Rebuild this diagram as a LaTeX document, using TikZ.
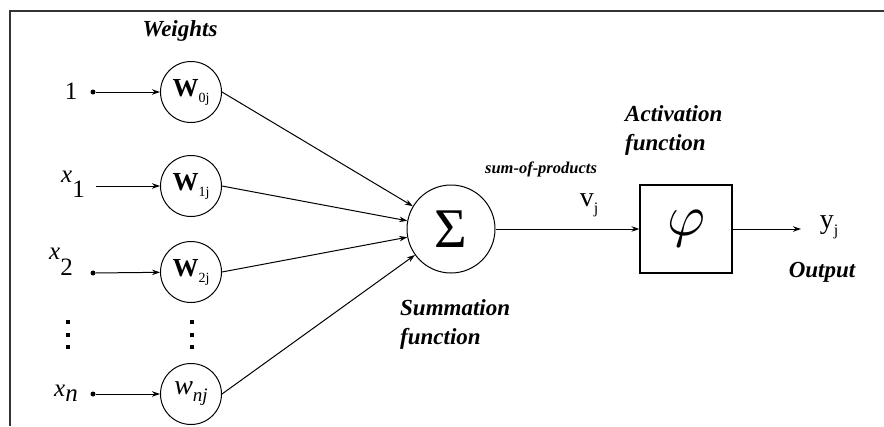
\documentclass[tikz,border=0pt]{standalone}
\usepackage{fontspec}
\setmainfont{Liberation Serif}
\usetikzlibrary{arrows.meta}
\begin{document}
\begin{tikzpicture}[x=1pt,y=-1pt,
  wnode/.style={draw, circle, minimum size=61pt, inner sep=0pt, line width=1pt},
  conn/.style={line width=1pt, -{Stealth[length=8pt,width=5.5pt]}},
  lbl/.style={font=\fontsize{23}{29}\selectfont\bfseries\itshape, align=left, inner sep=0pt},
  small/.style={font=\fontsize{16.5}{18}\selectfont\bfseries\itshape, inner sep=0pt},
  inlbl/.style={font=\fontsize{25}{27}\selectfont, inner sep=0pt},
  outlbl/.style={font=\fontsize{28}{30}\selectfont, inner sep=0pt},
  dotc/.style={circle, fill, inner sep=0pt, minimum size=5pt},
  vdot/.style={rectangle, fill, inner sep=0pt, minimum size=4pt}]
\useasboundingbox (0,0) rectangle (884,426);
\draw[line width=2pt, black!80] (10,426) -- (10,11) -- (884,11);

% labels
\node[lbl] (weights) at (180,31) {Weights};

% weight nodes
\node[wnode] (w0) at (191,92) {\fontsize{26}{28}\selectfont\textbf{W}\raisebox{-6pt}{\fontsize{14}{15}\selectfont 0j}};
\node[wnode] (w1) at (191,186) {\fontsize{26}{28}\selectfont\textbf{W}\raisebox{-6pt}{\fontsize{14}{15}\selectfont 1j}};
\node[wnode] (w2) at (191,272) {\fontsize{26}{28}\selectfont\textbf{W}\raisebox{-6pt}{\fontsize{14}{15}\selectfont 2j}};
\node[wnode] (wn) at (191,394) {\fontsize{28}{30}\selectfont\textit{w}\raisebox{-7pt}{\fontsize{19}{20}\selectfont\textit{nj}}};

% inputs
\node[inlbl] (in0) at (71,91) {1};
\node[dotc] (d0) at (93,92) {};
\coordinate (d1) at (96,186);
\node[inlbl, anchor=west] (in1) at (61,184) {\textit{x}\raisebox{-15pt}{1}};
\node[dotc] (d2) at (93,273) {};
\node[inlbl, anchor=west] (in2) at (49,262) {\textit{x}\raisebox{-16pt}{2}};
\node[dotc] (dn) at (93,394) {};
\node[inlbl, anchor=west] (inn) at (54,393) {\textit{x}\raisebox{-5pt}{\textit{n}}};

% vertical dots
\node[vdot] (la) at (68,322) {};
\node[vdot] (lb) at (68,335) {};
\node[vdot] (lc) at (68,347) {};
\node[vdot] (ra) at (192,322) {};
\node[vdot] (rb) at (192,335) {};
\node[vdot] (rc) at (192,347) {};

% input arrows
\draw[conn] (d0) -- (w0);
\draw[conn] (d1) -- (w1);
\draw[conn] (d2) -- (w2);
\draw[conn] (dn) -- (wn);

% summation
\node[draw, circle, minimum size=88pt, inner sep=0pt, line width=1pt] (sum) at (451,229) {\fontsize{56}{58}\selectfont Σ};
\draw[conn] (w0.east) -- (sum);
\draw[conn] (w1.east) -- (sum);
\draw[conn] (w2.east) -- (sum);
\draw[conn] (wn.east) -- (sum);

\node[small] (sop) at (541,169) {sum-of-products};
\node[outlbl] (vj) at (589,205) {v\raisebox{-7pt}{\fontsize{16}{17}\selectfont j}};
\node[lbl, anchor=west] (sumlbl) at (400,324) {Summation\\function};

% activation
\node[draw, rectangle, minimum width=92pt, minimum height=88pt, inner sep=0pt, line width=1.2pt] (act) at (686,229) {\scalebox{5.8}{$\varphi$}};
\node[lbl, anchor=west] (actlbl) at (625,130) {Activation\\function};
\draw[conn] (sum) -- (act);

\coordinate (out) at (801,229);
\draw[conn] (act) -- (out);
\node[outlbl] (yj) at (829,227) {y\raisebox{-7pt}{\fontsize{16}{17}\selectfont j}};
\node[lbl] (outlbl) at (822,272) {Output};
\end{tikzpicture}
\end{document}
